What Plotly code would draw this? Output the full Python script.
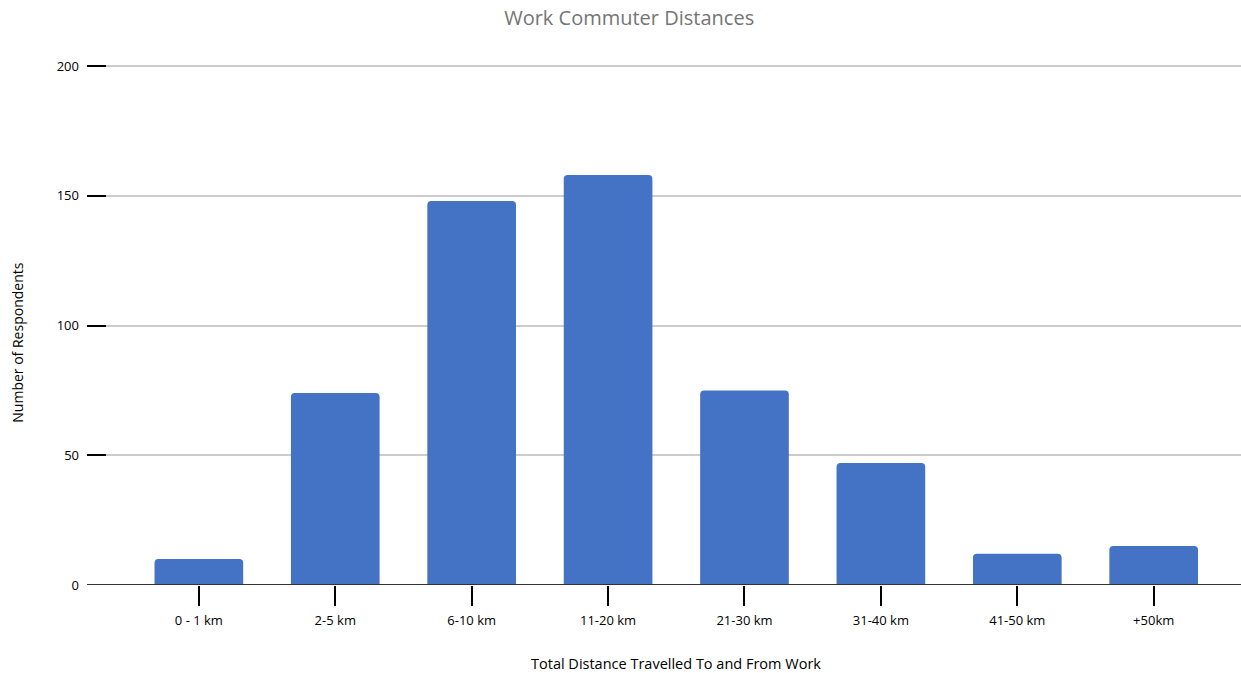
import plotly.graph_objects as go

categories = ["0 - 1 km", "2-5 km", "6-10 km", "11-20 km", "21-30 km", "31-40 km", "41-50 km", "+50km"]
respondents = [10, 74, 148, 158, 75, 47, 12, 15]
y_ticks = [0, 50, 100, 150, 200]

FONT = "Open Sans, Noto Sans, sans-serif"

fig = go.Figure(
    go.Bar(
        x=list(range(len(categories))),
        y=respondents,
        marker=dict(color="#4472C4", line=dict(width=0)),
        width=0.65,
        hoverinfo="x+y",
    )
)

fig.update_layout(
    width=1241,
    height=673,
    margin=dict(l=87, r=0, t=65, b=88),
    paper_bgcolor="white",
    plot_bgcolor="white",
    barcornerradius=4,
    showlegend=False,
    font=dict(family=FONT, color="#000000", size=12),
    title=dict(
        text="Work Commuter Distances",
        x=0.507,
        xanchor="center",
        y=0.984,
        yanchor="top",
        font=dict(family=FONT, size=20, color="#757575"),
    ),
    # baseline along the category axis, spanning the full plot width
    shapes=[
        dict(
            type="line", xref="paper", yref="y",
            x0=0, x1=1, y0=0, y1=0,
            line=dict(color="#333333", width=2),
            layer="above",
        )
    ],
    annotations=[
        dict(
            text="Total Distance Travelled To and From Work",
            xref="paper", yref="paper",
            x=0.51, y=-0.15,
            xanchor="center", yanchor="middle",
            showarrow=False,
            font=dict(size=14.5, family=FONT, color="#000000"),
        ),
        dict(
            text="Number of Respondents",
            xref="paper", yref="paper",
            x=-0.0598, y=0.466,
            xanchor="center", yanchor="middle",
            textangle=-90,
            showarrow=False,
            font=dict(size=14, family=FONT, color="#000000"),
        ),
    ],
)

fig.update_xaxes(
    tickmode="array",
    tickvals=list(range(len(categories))),
    ticktext=categories,
    range=[-0.82, 7.64],
    showgrid=False,
    zeroline=False,
    showline=False,
    ticks="outside",
    ticklen=20,
    tickwidth=1.5,
    tickcolor="#000000",
    ticklabelstandoff=3,
    tickfont=dict(size=13, family=FONT),
)

fig.update_yaxes(
    range=[0, 200.4],
    tickvals=y_ticks,
    showgrid=True,
    gridcolor="#cccccc",
    gridwidth=1.5,
    zeroline=False,
    showline=False,
    ticks="inside",
    ticklen=19,
    tickwidth=1.5,
    tickcolor="#000000",
    ticklabelstandoff=7,
    tickfont=dict(size=13, family=FONT),
)

fig.write_html("out.html")
